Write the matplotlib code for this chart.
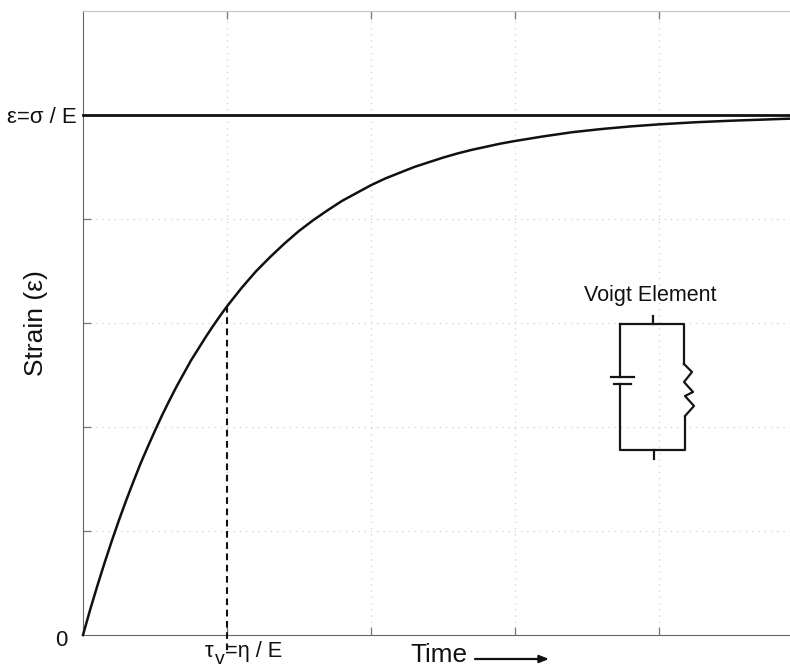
# Voigt element creep curve
import matplotlib
matplotlib.use('Agg')
import matplotlib.pyplot as plt

plt.rcParams['font.family'] = ['Liberation Sans', 'DejaVu Sans']

# values (time in units of tau, strain in units of sigma/E)
time = [0, 0.05, 0.1, 0.15, 0.2, 0.25, 0.3, 0.35, 0.4, 0.45, 0.5, 0.55, 0.6, 0.65, 0.7,
        0.75, 0.8, 0.85, 0.9, 0.95, 1.0, 1.1, 1.2, 1.3, 1.4, 1.5, 1.6, 1.7, 1.8, 1.9,
        2.0, 2.1, 2.2, 2.3, 2.4, 2.5, 2.6, 2.7, 2.8, 2.9, 3.0, 3.2, 3.4, 3.6, 3.8,
        4.0, 4.25, 4.5, 4.91]
strain = [0, 0.049, 0.095, 0.139, 0.181, 0.221, 0.259, 0.295, 0.33, 0.362, 0.393, 0.423,
          0.451, 0.478, 0.503, 0.528, 0.55, 0.572, 0.593, 0.613, 0.632, 0.667, 0.699,
          0.727, 0.753, 0.777, 0.798, 0.817, 0.835, 0.85, 0.865, 0.878, 0.889, 0.9,
          0.909, 0.918, 0.926, 0.933, 0.939, 0.945, 0.95, 0.959, 0.967, 0.973, 0.978,
          0.982, 0.986, 0.989, 0.993]
plateau = [1, 1]
plateau_time = [0, 4.91]
tau = 1.0
tau_strain = 0.632
x_ticks = [1, 2, 3, 4]
y_ticks = [0.2, 0.4, 0.6, 0.8, 1.0]

W, H = 790, 668
fig = plt.figure(figsize=(W / 100, H / 100), dpi=100)
left, right, top, bottom = 83, 790, 11, 635
ax = fig.add_axes([left / W, 1 - bottom / H, (right - left) / W, (bottom - top) / H])

ax.plot(time, strain, color='#111111', lw=1.8, clip_on=False, zorder=3)
ax.plot(plateau_time, plateau, color='#111111', lw=2.0, clip_on=False, zorder=3)
ax.plot([tau, tau], [tau_strain, -0.03], color='#111111', lw=1.5, dashes=(3.2, 2.2),
        clip_on=False, zorder=3)

ax.set_xlim(0, 4.91)
ax.set_ylim(0, 1.2)
ax.set_xticks(x_ticks)
ax.set_yticks(y_ticks)
ax.set_xticklabels([])
ax.set_yticklabels([])
ax.tick_params(direction='in', length=6, width=0.9, color='#777777', top=True)
ax.grid(True, color='#d0d0d0', lw=0.9, ls=(0, (1, 4)))
ax.set_axisbelow(True)
ax.spines['right'].set_visible(False)
ax.spines['left'].set_color('#666666')
ax.spines['bottom'].set_color('#666666')
ax.spines['top'].set_color('#c4c4c4')

# overlay in pixel coordinates for the labels and the circuit sketch
ov = fig.add_axes([0, 0, 1, 1])
ov.set_xlim(0, W)
ov.set_ylim(H, 0)
ov.axis('off')
ov.patch.set_alpha(0)

ov.text(77, 115, 'ε=σ / E', fontsize=15.9, ha='right', va='center_baseline', color='#111111')
ov.text(68, 638, '0', fontsize=15.9, ha='right', va='center_baseline', color='#111111')
ov.text(36, 323, 'Strain (ε)', fontsize=19, rotation=90, ha='center', va='center', color='#111111')
ov.text(205, 657, 'τ', fontsize=15.9, ha='left', va='baseline', color='#111111')
ov.text(215, 664, 'v', fontsize=14, ha='left', va='baseline', color='#111111')
ov.text(225, 657, '=η / E', fontsize=15.7, ha='left', va='baseline', color='#111111')
ov.text(410, 662, 'Time', fontsize=18.8, ha='left', va='baseline', color='#111111')
ov.annotate('', xy=(549, 659), xytext=(475, 659),
            arrowprops=dict(arrowstyle='-|>,head_width=0.22,head_length=0.55', color='#111111',
                            lw=1.6, shrinkA=0, shrinkB=0))
ov.text(650, 295, 'Voigt Element', fontsize=15.5, ha='center', va='center', color='#111111')

# Voigt element sketch
wire = dict(color='#151515', lw=1.6, solid_capstyle='projecting')
ov.plot([653, 653], [316, 324], **wire)
ov.plot([654, 654], [450, 459], **wire)
ov.plot([620, 684, 684], [324, 324, 364], **wire)
ov.plot([620, 620], [324, 377], **wire)
ov.plot([611, 634], [377, 377], **wire)
ov.plot([614, 631], [384, 384], **wire)
ov.plot([620, 620, 685, 685], [384, 450, 450, 417], **wire)
ov.plot([684, 692, 684, 693, 685, 694, 685],
        [364, 372, 382, 392, 396, 406, 416], color='#151515', lw=1.6)

fig.savefig('out.png', dpi=100)
